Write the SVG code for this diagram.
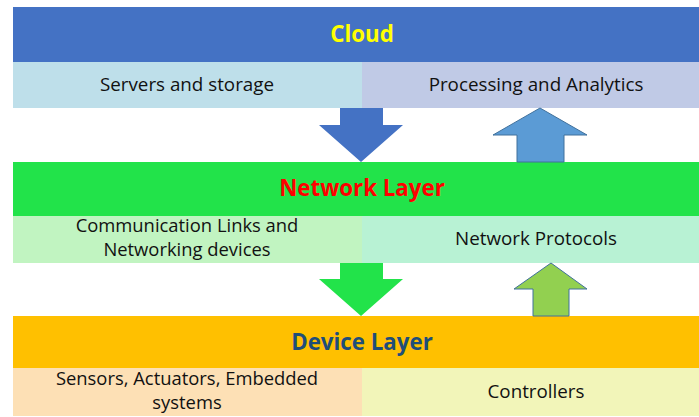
<svg xmlns="http://www.w3.org/2000/svg" width="699" height="417" viewBox="0 0 699 417">
  <style>
    .title { font-family: "Open Sans", "Liberation Sans", sans-serif; font-weight: bold; font-size: 22.3px; text-anchor: middle; }
    .cell { font-family: "Open Sans", "Liberation Sans", sans-serif; font-size: 18.8px; fill: #111; text-anchor: middle; }
    .cell2 { font-family: "Open Sans", "Liberation Sans", sans-serif; font-size: 18.4px; fill: #111; text-anchor: middle; }
  </style>
  <rect x="0" y="0" width="699" height="417" fill="#ffffff"/>

  <!-- Cloud tier -->
  <g id="cloud">
    <rect x="13" y="7" width="686" height="55" fill="#4472C4"/>
    <text class="title" x="362" y="42" fill="#FFFF00">Cloud</text>
  </g>
  <g id="servers-storage">
    <rect x="13" y="62" width="349" height="46" fill="#BEDFEA"/>
    <text class="cell" x="187" y="91">Servers and storage</text>
  </g>
  <g id="processing-analytics">
    <rect x="362" y="62" width="337" height="46" fill="#C0CAE6"/>
    <text class="cell" x="536" y="91">Processing and Analytics</text>
  </g>

  <!-- Network tier -->
  <g id="network-layer">
    <rect x="13" y="162" width="686" height="54" fill="#22E34A"/>
    <text class="title" x="362" y="196" fill="#FF0000">Network Layer</text>
  </g>
  <g id="comm-links">
    <rect x="13" y="216" width="349" height="47" fill="#C1F4C1"/>
    <text class="cell2" x="187" y="232">Communication Links and</text>
    <text class="cell2" x="187" y="256">Networking devices</text>
  </g>
  <g id="network-protocols">
    <rect x="362" y="216" width="337" height="47" fill="#B8F2D4"/>
    <text class="cell" x="536" y="245">Network Protocols</text>
  </g>

  <!-- Device tier -->
  <g id="device-layer">
    <rect x="13" y="316" width="686" height="52" fill="#FFC000"/>
    <text class="title" x="362" y="350" fill="#1F4E79">Device Layer</text>
  </g>
  <g id="sensors">
    <rect x="13" y="368" width="349" height="48" fill="#FDE0B5"/>
    <text class="cell2" x="187" y="385">Sensors, Actuators, Embedded</text>
    <text class="cell2" x="187" y="409">systems</text>
  </g>
  <g id="controllers">
    <rect x="362" y="368" width="337" height="48" fill="#F2F5B9"/>
    <text class="cell" x="536" y="398">Controllers</text>
  </g>

  <!-- Block arrows between tiers -->
  <g id="connectors">
    <polygon points="340,108 383,108 383,125 403,125 361,162 319,125 340,125" fill="#4472C4"/>
    <polygon points="540,108 587,135 564,135 564,162 517,162 517,135 493,135" fill="#5B9BD5" stroke="#41719C" stroke-width="1"/>
    <polygon points="340,263 383,263 383,279 403,279 361,316 319,279 340,279" fill="#22E34A"/>
    <polygon points="551,263 587,289 569,289 569,316 533,316 533,289 514,289" fill="#92D050" stroke="#41719C" stroke-width="1"/>
  </g>
</svg>
